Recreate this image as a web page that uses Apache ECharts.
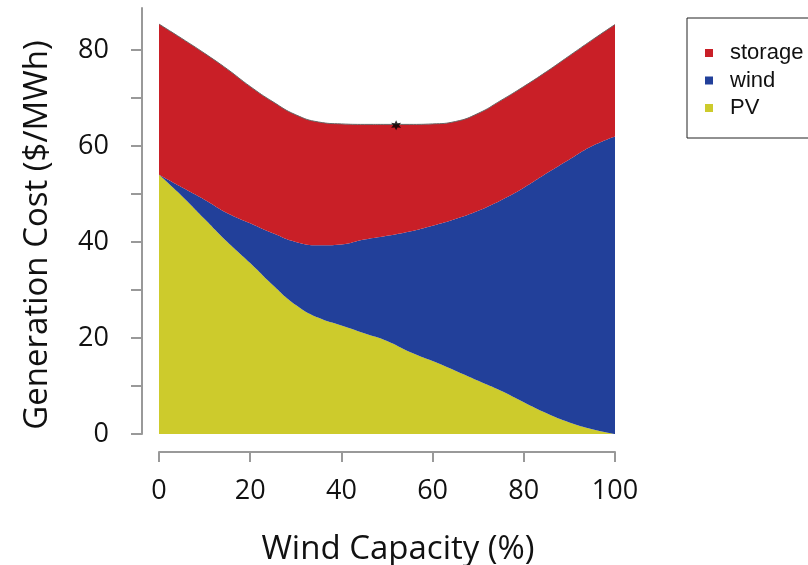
<!DOCTYPE html>
<html>
<head>
<meta charset="utf-8">
<script src="https://cdn.jsdelivr.net/npm/echarts@6/dist/echarts.min.js"></script>
<style>html,body{margin:0;padding:0;background:#fff}#c{width:808px;height:565px}</style>
</head>
<body>
<div id="c"></div>
<script>
const windCapacity = [0,5,10,15,20,25,30,35,40,45,50,55,60,65,70,75,80,85,90,95,100];
const pvCost      = [54,49.6,44.8,40,35.6,31,26.9,24.2,22.6,21,19.4,17.1,15.2,13.2,11.1,9,6.6,4.3,2.4,1.0,0];
const windCost    = [0,1.8,4.0,6.0,8.3,10.8,13.1,15.1,16.9,19.5,21.9,25.1,28.2,31.6,35.4,39.7,44.7,50,54.8,59,62];
const storageCost = [31.4,31,30.5,30,28.5,27.4,26.5,25.7,25.1,24,23.2,22.3,21.2,20.3,20.3,20.8,21.1,21.2,21.6,22.1,23.3];
const optimumPoint = [[52, 64.3]];
const yTicks = [0,10,20,30,40,50,60,70,80];
const yLabels = [0,20,40,60,80];

const chart = echarts.init(document.getElementById('c'), null, {renderer: 'canvas'});
const axisFont = '"Open Sans", sans-serif';
const starPath = 'path://M0,-10 L2.5,-4.3 L8.7,-5 L5,0 L8.7,5 L2.5,4.3 L0,10 L-2.5,4.3 L-8.7,5 L-5,0 L-8.7,-5 L-2.5,-4.3 Z';

chart.setOption({
  animation: false,
  backgroundColor: '#fff',
  grid: {left: 159, right: 193, top: 8, bottom: 131, containLabel: false, outerBoundsMode: 'none'},
  legend: {
    data: ['storage', 'wind', 'PV'],
    orient: 'vertical',
    left: 687, top: 18,
    padding: [24, 40, 19, 18],
    itemGap: 5.5,
    itemWidth: 8, itemHeight: 8,
    icon: 'rect',
    borderColor: '#222', borderWidth: 1,
    textStyle: {fontFamily: '"Liberation Sans", Arial, sans-serif', fontSize: 22, color: '#111', padding: [0,0,0,12]}
  },
  xAxis: [{
    type: 'category', data: windCapacity.map(String), boundaryGap: false,
    offset: 18,
    name: 'Wind Capacity (%)', nameLocation: 'middle', nameGap: 81,
    nameTextStyle: {fontFamily: axisFont, fontSize: 33, color: '#111', padding: [0,0,0,22]},
    axisLine: {show: true, onZero: false, lineStyle: {color: '#999', width: 2}},
    axisTick: {show: true, interval: 3, alignWithLabel: true, length: 10, lineStyle: {color: '#999', width: 2}},
    axisLabel: {interval: 3, margin: 26, fontFamily: axisFont, fontSize: 27, color: '#111'},
    splitLine: {show: false}
  }, {
    type: 'value', min: 0, max: 100, show: false
  }],
  yAxis: {
    type: 'value', min: 0, max: 88.75,
    offset: 17,
    name: 'Generation Cost ($/MWh)', nameLocation: 'middle', nameGap: 88,
    nameTextStyle: {fontFamily: axisFont, fontSize: 33, color: '#111', padding: [0,28,0,0]},
    axisLine: {show: true, onZero: false, lineStyle: {color: '#999', width: 2}},
    axisTick: {show: true, length: 11, customValues: yTicks, lineStyle: {color: '#999', width: 2}},
    axisLabel: {margin: 33, customValues: yLabels, fontFamily: axisFont, fontSize: 27, color: '#111'},
    splitLine: {show: false}
  },
  series: [
    {name: 'PV', type: 'line', stack: 'cost', smooth: true, showSymbol: false,
     data: pvCost, color: '#CDCB2C',
     lineStyle: {width: 0}, areaStyle: {color: '#CDCB2C', opacity: 1}},
    {name: 'wind', type: 'line', stack: 'cost', smooth: true, showSymbol: false,
     data: windCost, color: '#22409A',
     lineStyle: {width: 0}, areaStyle: {color: '#22409A', opacity: 1}},
    {name: 'storage', type: 'line', stack: 'cost', smooth: true, showSymbol: false,
     data: storageCost, color: '#C91F27',
     lineStyle: {width: 1, color: '#666'}, areaStyle: {color: '#C91F27', opacity: 1}},
    {name: 'optimum', type: 'scatter', xAxisIndex: 1, data: optimumPoint, symbol: starPath, symbolSize: 10,
     itemStyle: {color: '#000'}, z: 5}
  ]
});
</script>
</body>
</html>
